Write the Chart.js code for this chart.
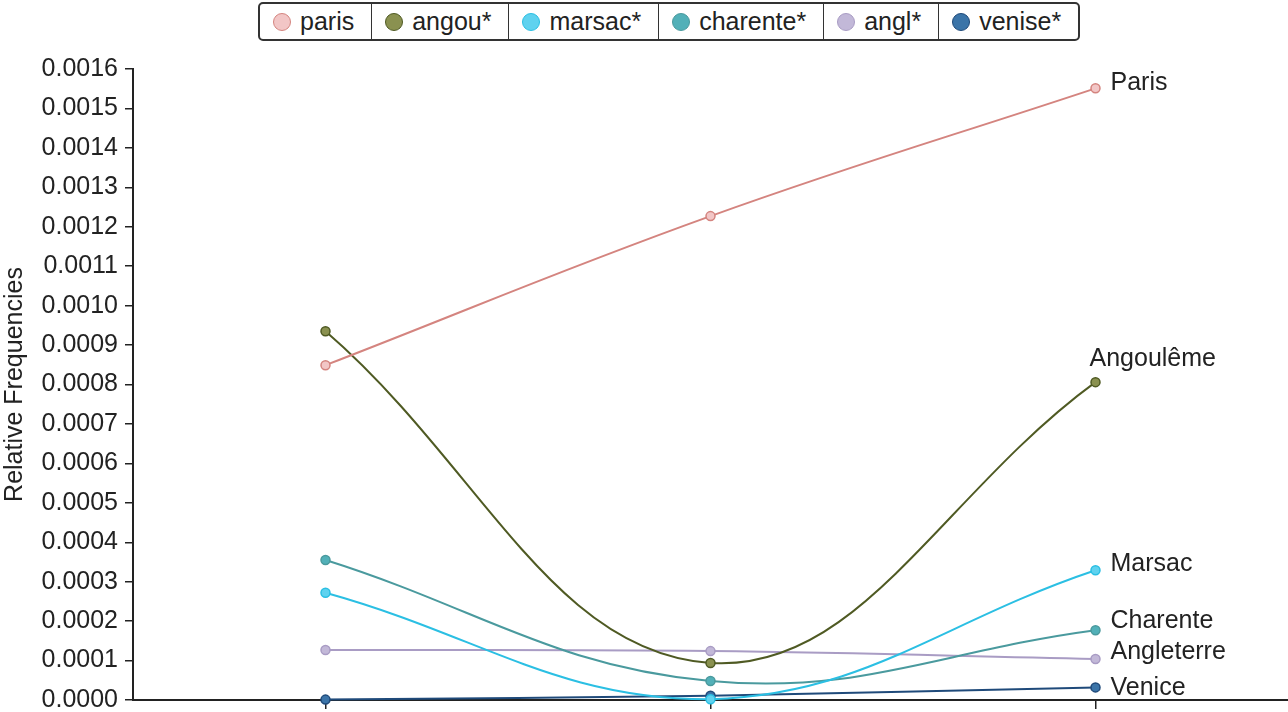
<!DOCTYPE html>
<html>
<head>
<meta charset="utf-8">
<script src="https://cdn.jsdelivr.net/npm/chart.js@4/dist/chart.umd.min.js"></script>
<style>
  html, body { margin: 0; padding: 0; background: #fff; }
  #wrap { position: relative; width: 1288px; height: 712px; }
  #legend {
    position: absolute; left: 258px; top: 2px; height: 35px;
    display: flex; border: 2px solid #333; border-radius: 5px;
    font-family: "Liberation Sans", Arial, sans-serif; font-size: 25px; color: #222;
    background: #fff;
  }
  #legend .item { display: flex; align-items: center; padding: 0 17px 0 13px; border-left: 1.5px solid #333; }
  #legend .item:first-child { border-left: none; }
  #legend .dot { width: 18px; height: 18px; border-radius: 50%; margin-right: 9px; box-sizing: border-box; border: 1.5px solid #333; }
</style>
</head>
<body>
<div id="wrap">
  <canvas id="chart" width="1288" height="712"></canvas>
  <div id="legend"></div>
</div>
<script>
// data
const categories = ['1', '2', '3'];
const seriesNames = ['paris', 'angou*', 'marsac*', 'charente*', 'angl*', 'venise*'];
const endLabels = ['Paris', 'Angoulême', 'Marsac', 'Charente', 'Angleterre', 'Venice'];
const paris    = [0.000849, 0.001227, 0.001551];
const angou    = [0.000935, 0.000094, 0.000806];
const marsac   = [0.000272, 0.000002, 0.000329];
const charente = [0.000355, 0.000048, 0.000177];
const angl     = [0.000127, 0.000124, 0.000104];
const venise   = [0.000001, 0.000011, 0.000032];
const yTicks = [0, 0.0016, 0.0001];

// styles
const lineColors = ['#d4847f', '#4f5a23', '#2bbfe3', '#4a9a9e', '#a99cc4', '#1f4a7a'];
const fillColors = ['#f2c6c6', '#8a9150', '#5fd2ef', '#52b0b8', '#c2b8d8', '#3b74a8'];
const labelNudge = [[15, -5], [-6, -23], [15, -6], [15, -9], [15, -7], [15, 1]];

const allSeries = [paris, angou, marsac, charente, angl, venise];

// legend
const legend = document.getElementById('legend');
seriesNames.forEach((name, i) => {
    const item = document.createElement('div');
    item.className = 'item';
    item.innerHTML = `<span class="dot" style="background:${fillColors[i]};border-color:${lineColors[i]}"></span>${name}`;
    legend.appendChild(item);
});

const endLabelPlugin = {
    id: 'endLabels',
    afterDatasetsDraw(chart) {
        const ctx = chart.ctx;
        ctx.save();
        ctx.font = '25px "Liberation Sans", Arial, sans-serif';
        ctx.fillStyle = '#222';
        ctx.textBaseline = 'middle';
        ctx.textAlign = 'left';
        chart.data.datasets.forEach((ds, i) => {
            const pts = chart.getDatasetMeta(i).data;
            const p = pts[pts.length - 1];
            ctx.fillText(endLabels[i], p.x + labelNudge[i][0], p.y + labelNudge[i][1]);
        });
        ctx.restore();
    }
};

const font = { family: '"Liberation Sans", Arial, sans-serif', size: 25 };

new Chart(document.getElementById('chart'), {
    type: 'line',
    data: {
        labels: categories,
        datasets: allSeries.map((vals, i) => ({
            label: seriesNames[i],
            data: vals,
            borderColor: lineColors[i],
            backgroundColor: fillColors[i],
            pointBackgroundColor: fillColors[i],
            pointBorderColor: lineColors[i],
            borderWidth: 2,
            pointRadius: 4.5,
            pointBorderWidth: 1.5,
            tension: 0.4,
            clip: false
        }))
    },
    options: {
        responsive: false,
        animation: false,
        layout: { autoPadding: false, padding: { top: 69, right: 0, bottom: 0, left: 0 } },
        plugins: {
            legend: { display: false },
            tooltip: { enabled: false }
        },
        scales: {
            x: {
                offset: true,
                grid: { display: true, drawOnChartArea: false, offset: false, tickLength: 9, color: '#222', lineWidth: 1.5 },
                border: { color: '#222', width: 2 },
                ticks: { display: false },
                afterFit: s => { s.height = 12; s.paddingLeft = 0; s.paddingRight = 0; }
            },
            y: {
                min: yTicks[0],
                max: yTicks[1],
                grid: { drawOnChartArea: false, tickLength: 8, color: '#222', lineWidth: 1.5 },
                border: { color: '#222', width: 2 },
                ticks: {
                    stepSize: yTicks[2],
                    color: '#222',
                    font: font,
                    padding: 7,
                    callback: v => v.toFixed(4)
                },
                title: { display: true, text: 'Relative Frequencies', color: '#222', font: font, padding: 0 },
                afterFit: s => { s.width = 133; s.paddingTop = 0; s.paddingBottom = 0; }
            }
        }
    },
    plugins: [endLabelPlugin]
});
</script>
</body>
</html>
